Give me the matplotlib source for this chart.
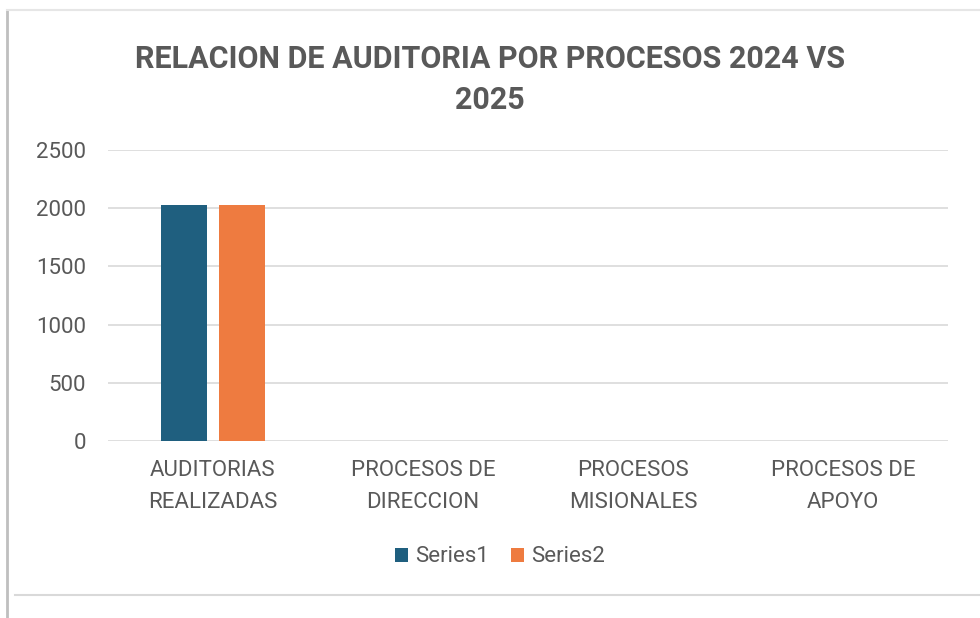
import matplotlib
matplotlib.use("Agg")
import matplotlib.pyplot as plt
import numpy as np
from matplotlib.lines import Line2D

categories = ["AUDITORIAS\nREALIZADAS", "PROCESOS DE\nDIRECCION", "PROCESOS\nMISIONALES", "PROCESOS DE\nAPOYO"]
series1 = [2024, 0, 0, 0]
series2 = [2025, 0, 0, 0]
series_names = ["Series1", "Series2"]
yticks = [0, 500, 1000, 1500, 2000, 2500]

c1 = "#1f5f7f"
c2 = "#ee7b40"
txt = "#595959"

plt.rcParams['font.family'] = ['Roboto', 'DejaVu Sans']

fig = plt.figure(figsize=(9.8, 6.18), dpi=100)
ax = fig.add_axes([108/980, 1-441/618, 840/980, 291/618])

x = np.arange(len(categories))
w = 0.22
off = 0.138
ax.bar(x - off, series1, w, color=c1, label=series_names[0], zorder=3)
ax.bar(x + off, series2, w, color=c2, label=series_names[1], zorder=3)

ax.set_xlim(-0.5, 3.5)
ax.set_ylim(0, 2500)
ax.set_yticks(yticks)
ax.set_yticklabels([str(t) for t in yticks])
ax.yaxis.grid(True, color="#d9d9d9", linewidth=1.2, zorder=0)
for s in ax.spines.values():
    s.set_visible(False)
ax.tick_params(axis='both', length=0, labelsize=16, colors=txt)
ax.tick_params(axis='y', pad=16)
ax.tick_params(axis='x', pad=14)
ax.set_xticks(x)
ax.set_xticklabels(categories, linespacing=1.65)

fig.text(0.5, 1-59/618, "RELACION DE AUDITORIA POR PROCESOS 2024 VS", ha='center', va='center',
         fontsize=22, fontweight='bold', color=txt)
fig.text(0.5, 1-100/618, "2025", ha='center', va='center', fontsize=22, fontweight='bold', color=txt)

leg = fig.legend(loc='center', bbox_to_anchor=(500/980, 1-557/618), ncol=2, frameon=False,
                 fontsize=16, handlelength=0.6, handleheight=0.6, handletextpad=0.3, columnspacing=1.0)
for t in leg.get_texts():
    t.set_color(txt)

# screenshot frame lines
fig.add_artist(Line2D([7/980, 7/980], [0, 1-10/618], transform=fig.transFigure, color="#bfbfbf", lw=2))
fig.add_artist(Line2D([7/980, 1], [1-10/618, 1-10/618], transform=fig.transFigure, color="#e6e6e6", lw=1.5))
fig.add_artist(Line2D([15/980, 1], [1-595/618, 1-595/618], transform=fig.transFigure, color="#d9d9d9", lw=1.5))

fig.savefig("out.png", dpi=100)
